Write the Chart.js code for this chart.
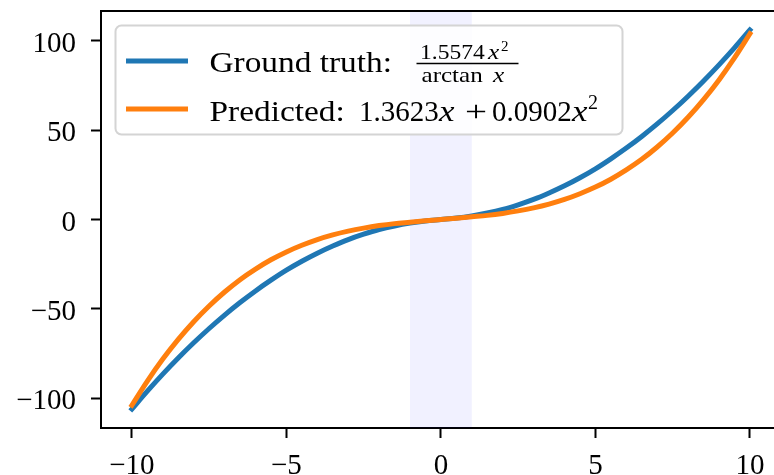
<!DOCTYPE html>
<html>
<head>
<meta charset="utf-8">
<script src="https://cdn.jsdelivr.net/npm/chart.js@4"></script>
<style>
  body { margin: 0; background: #fff; }
  canvas { display: block; }
</style>
</head>
<body>
<canvas id="grafica" width="774" height="475"></canvas>
<script>
// x positions
var xValues = [-10, -9.5, -9, -8.5, -8, -7.5, -7, -6.5, -6, -5.5, -5, -4.5, -4, -3.5, -3, -2.5, -2, -1.5, -1, -0.5,
  0, 0.5, 1, 1.5, 2, 2.5, 3, 3.5, 4, 4.5, 5, 5.5, 6, 6.5, 7, 7.5, 8, 8.5, 9, 9.5, 10];
var groundTruth = [-105.9, -95.9, -86.4, -77.4, -68.9, -60.9, -53.4, -46.4, -39.9, -33.9, -28.3, -23.3, -18.8, -14.8, -11.2, -8.2, -5.6, -3.6, -2.0, -0.8,
  0, 0.8, 2.0, 3.6, 5.6, 8.2, 11.2, 14.8, 18.8, 23.3, 28.3, 33.9, 39.9, 46.4, 53.4, 60.9, 68.9, 77.4, 86.4, 95.9, 105.9];
var predicted = [-103.8, -90.3, -78.0, -67.0, -57.1, -48.3, -40.5, -33.6, -27.7, -22.5, -18.1, -14.4, -11.2, -8.6, -6.5, -4.8, -3.4, -2.3, -1.5, -0.7,
  0, 0.7, 1.5, 2.3, 3.4, 4.8, 6.5, 8.6, 11.2, 14.4, 18.1, 22.5, 27.7, 33.6, 40.5, 48.3, 57.1, 67.0, 78.0, 90.3, 103.8];
var xTicks = [-10, -5, 0, 5, 10];
var yTicks = [-100, -50, 0, 50, 100];
var bandStart = -1;
var bandEnd = 1;

var SERIF = '"Liberation Serif", "Times New Roman", serif';
var BLUE = '#1f77b4';
var ORANGE = '#ff7f0e';

function toPoints(ys) {
  return xValues.map(function (x, i) { return { x: x, y: ys[i] }; });
}

function fmt(v) {
  return v < 0 ? '\u2212' + Math.abs(v) : String(v);
}

// text with an optional horizontal stretch (Computer Modern is wider than Times)
function drawText(ctx, t, x, y, font, sx) {
  ctx.save();
  ctx.font = font;
  ctx.translate(x, y);
  ctx.scale(sx || 1, 1);
  ctx.fillText(t, 0, 0);
  ctx.restore();
}

// light band behind the curves
var bandPlugin = {
  id: 'band',
  beforeDatasetsDraw: function (chart) {
    var ctx = chart.ctx, a = chart.chartArea, xs = chart.scales.x;
    var x0 = xs.getPixelForValue(bandStart), x1 = xs.getPixelForValue(bandEnd);
    ctx.save();
    ctx.fillStyle = 'rgba(0, 0, 255, 0.055)';
    ctx.fillRect(x0, a.top, x1 - x0, a.bottom - a.top);
    ctx.restore();
  }
};

// tick labels, placed from the scales' own ticks
var tickLabelPlugin = {
  id: 'tickLabels',
  afterDraw: function (chart) {
    var ctx = chart.ctx, xs = chart.scales.x, ys = chart.scales.y;
    ctx.save();
    ctx.fillStyle = '#000';
    ctx.font = '29px ' + SERIF;
    ctx.textBaseline = 'alphabetic';
    ctx.textAlign = 'center';
    xs.ticks.forEach(function (t) {
      ctx.fillText(fmt(t.value), xs.getPixelForValue(t.value), 474);
    });
    ctx.textAlign = 'right';
    ys.ticks.forEach(function (t) {
      ctx.fillText(fmt(t.value), 76, ys.getPixelForValue(t.value) + 11);
    });
    ctx.restore();
  }
};

var legendPlugin = {
  id: 'mathLegend',
  afterDraw: function (chart) {
    var ctx = chart.ctx, a = chart.chartArea;
    ctx.save();
    // top spine
    ctx.strokeStyle = '#000';
    ctx.lineWidth = 2;
    ctx.beginPath();
    ctx.moveTo(a.left - 1, a.top);
    ctx.lineTo(a.right, a.top);
    ctx.stroke();

    // legend box
    ctx.beginPath();
    ctx.roundRect(115.5, 25.5, 507, 109, 6);
    ctx.fillStyle = 'rgba(255,255,255,0.8)';
    ctx.fill();
    ctx.strokeStyle = '#d4d4d4';
    ctx.lineWidth = 2;
    ctx.stroke();

    // legend lines
    ctx.lineWidth = 5;
    ctx.strokeStyle = BLUE;
    ctx.beginPath(); ctx.moveTo(126, 61); ctx.lineTo(188, 61); ctx.stroke();
    ctx.strokeStyle = ORANGE;
    ctx.beginPath(); ctx.moveTo(126, 109); ctx.lineTo(188, 109); ctx.stroke();

    ctx.fillStyle = '#000';
    ctx.textBaseline = 'alphabetic';
    ctx.textAlign = 'left';
    var big = '29px ' + SERIF, bigI = 'italic 29px ' + SERIF;
    var small = '22px ' + SERIF, smallI = 'italic 22px ' + SERIF;

    drawText(ctx, 'Ground truth:', 209.5, 72, big, 1.15);

    // fraction 1.5574x^2 / arctan x
    drawText(ctx, '1.5574', 420, 59, small, 1.07);
    drawText(ctx, 'x', 488, 59, smallI, 1.15);
    drawText(ctx, '2', 501, 51, '15px ' + SERIF);
    ctx.lineWidth = 1.5;
    ctx.strokeStyle = '#000';
    ctx.beginPath(); ctx.moveTo(416.5, 63.5); ctx.lineTo(518.5, 63.5); ctx.stroke();
    drawText(ctx, 'arctan', 421.5, 82, small, 1.14);
    drawText(ctx, 'x', 493, 82, smallI, 1.15);

    drawText(ctx, 'Predicted:', 209.5, 121, big, 1.15);
    drawText(ctx, '1.3623', 359, 121, big);
    drawText(ctx, 'x', 439, 121, bigI, 1.2);
    ctx.save();
    ctx.font = big;
    ctx.textAlign = 'center';
    ctx.translate(476, 121);
    ctx.scale(1.35, 1);
    ctx.fillText('+', 0, 0);
    ctx.restore();
    drawText(ctx, '0.0902', 492, 121, big);
    drawText(ctx, 'x', 572, 121, bigI, 1.2);
    drawText(ctx, '2', 588, 109, '20px ' + SERIF);
    ctx.restore();
  }
};

var ctx = document.getElementById('grafica').getContext('2d');
var chart = new Chart(ctx, {
  type: 'line',
  data: {
    datasets: [{
      label: 'Ground truth',
      data: toPoints(groundTruth),
      borderColor: BLUE,
      borderWidth: 5,
      pointRadius: 0,
      cubicInterpolationMode: 'monotone',
      borderCapStyle: 'square',
      fill: false,
      order: 1
    }, {
      label: 'Predicted',
      data: toPoints(predicted),
      borderColor: ORANGE,
      borderWidth: 5,
      pointRadius: 0,
      cubicInterpolationMode: 'monotone',
      borderCapStyle: 'square',
      fill: false,
      order: 0
    }]
  },
  options: {
    responsive: false,
    devicePixelRatio: 1,
    animation: false,
    events: [],
    layout: { padding: { top: 11, right: 0, left: 0, bottom: 0 } },
    plugins: { legend: { display: false }, tooltip: { enabled: false } },
    scales: {
      x: {
        type: 'linear',
        min: -11,
        max: 10.78,
        afterBuildTicks: function (s) { s.ticks = xTicks.map(function (v) { return { value: v }; }); },
        afterFit: function (s) { s.height = 47; },
        grid: { display: true, drawOnChartArea: false, drawTicks: true, tickLength: 10, tickWidth: 2, tickColor: '#000' },
        border: { display: true, color: '#000', width: 2 },
        ticks: { display: false }
      },
      y: {
        type: 'linear',
        min: -116.5,
        max: 116.5,
        afterBuildTicks: function (s) { s.ticks = yTicks.map(function (v) { return { value: v }; }); },
        afterFit: function (s) { s.width = 101; },
        grid: { display: true, drawOnChartArea: false, drawTicks: true, tickLength: 10, tickWidth: 2, tickColor: '#000' },
        border: { display: true, color: '#000', width: 2 },
        ticks: { display: false }
      }
    }
  },
  plugins: [bandPlugin, tickLabelPlugin, legendPlugin]
});
</script>
</body>
</html>
